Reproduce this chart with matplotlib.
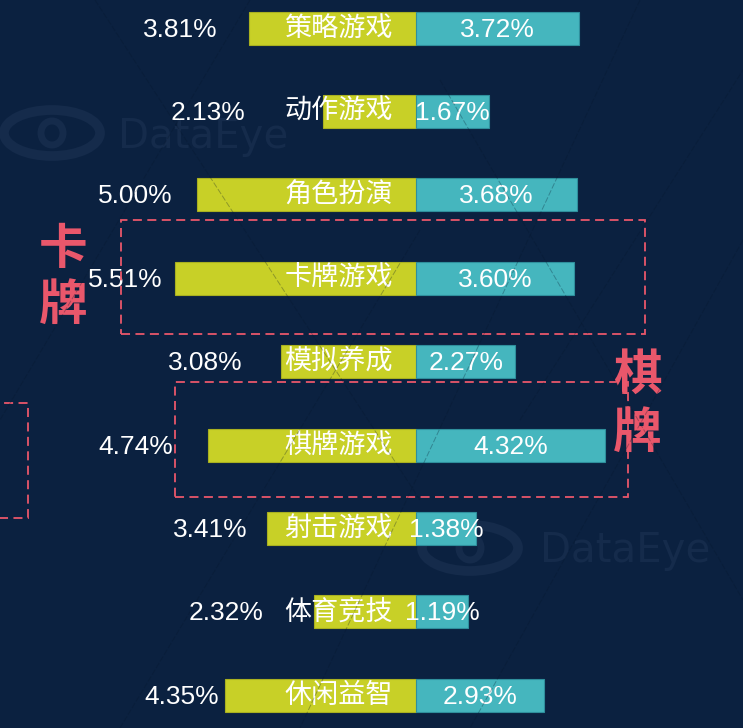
import matplotlib
matplotlib.use("Agg")
import matplotlib.pyplot as plt
from matplotlib.patches import Rectangle, Ellipse

# data
categories = ["策略游戏", "动作游戏", "角色扮演", "卡牌游戏", "模拟养成",
              "棋牌游戏", "射击游戏", "体育竞技", "休闲益智"]
left_vals = [3.81, 2.13, 5.00, 5.51, 3.08, 4.74, 3.41, 2.32, 4.35]
right_vals = [3.72, 1.67, 3.68, 3.60, 2.27, 4.32, 1.38, 1.19, 2.93]

# layout (pixels of the 743x728 canvas)
W, H = 743, 728
center_px = 416
px_per_pct = 43.8
row0_px, row_step_px = 28, 83.4
left_label_px = [180, 208, 135, 125, 205, 136, 210, 226, 182]

bg = "#0b2140"
yellow = "#c8d027"
teal = "#45b6be"
pink = "#e9576b"
faint = "#152b4b"

plt.rcParams['font.family'] = ['Noto Sans CJK SC', 'DejaVu Sans']

fig = plt.figure(figsize=(W / 100, H / 100), dpi=100, facecolor=bg)
ax = fig.add_axes([0, 0, 1, 1])
ax.patch.set_alpha(0)
ax.set_xlim(-center_px / px_per_pct, (W - center_px) / px_per_pct)
ax.set_ylim((H - row0_px) / row_step_px, -row0_px / row_step_px)
ax.axis("off")


def px(x, y):
    # canvas pixel (top-left origin) -> figure fraction
    return x / W, 1 - y / H


# watermark, behind everything
for (ex, ey, tx, ty) in [(52, 133, 118, 137), (470, 548, 540, 551)]:
    a, b = px(ex, ey)
    fig.add_artist(Ellipse((a, b), 96 / W, 46 / H, fill=False, edgecolor=faint, lw=7, zorder=-2))
    fig.add_artist(Ellipse((a, b), 22 / W, 24 / H, fill=False, edgecolor=faint, lw=5, zorder=-2))
    fx, fy = px(tx, ty)
    fig.text(fx, fy, "DataEye", color=faint, fontsize=29, ha="left", va="center",
             family=["DejaVu Sans"], zorder=-2)

# thin dark diagonal lines lying over the chart
for (x0, y0, x1, y1) in [(95, 0, 420, 500), (250, 0, 0, 420), (640, 0, 300, 728),
                         (440, 80, 743, 600), (120, 728, 420, 230), (743, 240, 470, 728),
                         (520, 420, 743, 70)]:
    a, b = px(x0, y0)
    c, d = px(x1, y1)
    fig.add_artist(plt.Line2D([a, c], [b, d], color="#06162b", lw=0.7, alpha=0.3,
                              ls=(0, (6, 2)), zorder=6))

ypos = list(range(len(categories)))
bar_h = 33 / row_step_px
ax.barh(ypos, [-v for v in left_vals], height=bar_h, color=yellow,
        edgecolor="#a9b020", linewidth=0.8, zorder=2)
ax.barh(ypos, right_vals, height=bar_h, color=teal,
        edgecolor="#2f8f9c", linewidth=0.8, zorder=2)

num_font = ["Liberation Sans", "DejaVu Sans"]
cat_x = (393 - center_px) / px_per_pct
for i, (cat, lv, rv) in enumerate(zip(categories, left_vals, right_vals)):
    ax.text(cat_x, i, cat, color="white", fontsize=19.5, ha="right", va="center", zorder=3)
    ax.text(rv / 2, i + 0.02, f"{rv:.2f}%", color="white", fontsize=19, ha="center",
            va="center", family=num_font, zorder=3)
    lx = (left_label_px[i] - center_px) / px_per_pct
    ax.text(lx, i + 0.02, f"{lv:.2f}%", color="white", fontsize=19, ha="center",
            va="center", family=num_font, zorder=3)

# dashed highlight boxes
for (x0, y0, x1, y1) in [(121, 220, 645, 334), (175, 382, 628, 497), (-5, 403, 28, 518)]:
    a, b = px(x0, y1)
    fig.add_artist(Rectangle((a, b), (x1 - x0) / W, (y1 - y0) / H, fill=False,
                             edgecolor=pink, lw=1.3, ls=(0, (5, 3)), zorder=4))

for (x, y, ch) in [(63, 250, "卡"), (63, 305, "牌"), (637, 375, "棋"), (637, 433, "牌")]:
    fx, fy = px(x, y)
    fig.text(fx, fy, ch, color=pink, fontsize=35, fontweight="bold", ha="center",
             va="center", zorder=5)

fig.savefig("out.png", dpi=100, facecolor=bg)
